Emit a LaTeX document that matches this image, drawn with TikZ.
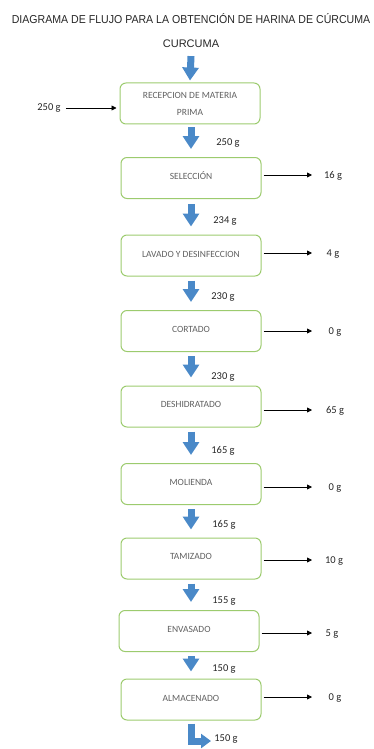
\documentclass[tikz,border=0pt]{standalone}
\usepackage{fontspec}
\setmainfont{Carlito}
\newfontfamily\titlefont{Liberation Sans}
\usetikzlibrary{arrows.meta,calc}
\definecolor{boxgreen}{HTML}{9CCB6E}
\definecolor{arrowblue}{HTML}{4A89C8}
\definecolor{boxtext}{HTML}{606060}
\begin{document}
\begin{tikzpicture}[x=1pt,y=-1pt,
  procbox/.style={draw=boxgreen, line width=1pt, rounded corners=6pt, minimum width=140pt, minimum height=41pt, inner sep=0pt, font=\fontsize{9.5}{15}\selectfont, text=boxtext, align=center},
  masslbl/.style={font=\fontsize{10.5}{12}\selectfont, text=black!85, inner sep=0pt},
  blockarrow/.style={draw=arrowblue, line width=7pt, line cap=butt, line join=miter, -{Triangle[width=16pt,length=13pt]}},
  thinarrow/.style={draw=black, line width=0.8pt, -{Triangle[width=5pt,length=5pt]}}
]
\useasboundingbox (0,0) rectangle (374,749);
% title
\node[font=\titlefont\fontsize{11.5}{13}\selectfont, text=black!85, inner sep=0pt] (title) at (191,19) {\scalebox{0.92}[1]{DIAGRAMA DE FLUJO PARA LA OBTENCIÓN DE HARINA DE CÚRCUMA}};
\node[font=\titlefont\fontsize{11}{13}\selectfont, text=black!85, inner sep=0pt] (cur) at (191,44) {CURCUMA};
% boxes
\node[procbox] (b1) at (190,103.5) {RECEPCION DE MATERIA\\[2pt]PRIMA};
\node[procbox] (b2) at (191,178) {\raisebox{4pt}{SELECCIÓN}};
\node[procbox] (b3) at (191,255.5) {\raisebox{2pt}{LAVADO Y DESINFECCION}};
\node[procbox] (b4) at (191,331) {\raisebox{4pt}{CORTADO}};
\node[procbox] (b5) at (191,406.5) {\raisebox{4pt}{DESHIDRATADO}};
\node[procbox] (b6) at (191,484) {\raisebox{4pt}{MOLIENDA}};
\node[procbox] (b7) at (191,558.5) {\raisebox{4pt}{TAMIZADO}};
\node[procbox] (b8) at (189,631) {\raisebox{4pt}{ENVASADO}};
\node[procbox] (b9) at (191,699.5) {\raisebox{2pt}{ALMACENADO}};
% block arrows
\draw[blockarrow] ($(cur.south)+(0,8)$) -- ($(b1.north)+(0,-2)$);
\draw[blockarrow] ($(b1.south)+(1,3)$) -- ($(b2.north)+(0,-8)$);
\draw[blockarrow] ($(b2.south)+(0,5)$) -- ($(b3.north)+(0,-8)$);
\draw[blockarrow] ($(b3.south)+(0,4)$) -- ($(b4.north)+(0,-8)$);
\draw[blockarrow] ($(b4.south)+(0,4)$) -- ($(b5.north)+(0,-8)$);
\draw[blockarrow] ($(b5.south)+(0,4)$) -- ($(b6.north)+(0,-8)$);
\draw[blockarrow] ($(b6.south)+(0,4)$) -- ($(b7.north)+(0,-8)$);
\draw[blockarrow] ($(b7.south)+(0,4)$) -- ($(b8.north)+(2,-8)$);
\draw[blockarrow] ($(b8.south)+(2,4)$) -- ($(b9.north)+(0,-7)$);
\coordinate (endp) at (211,741);
\draw[blockarrow, -{Triangle[width=14pt,length=10pt]}] ($(b9.south)+(0,3)$) |- (endp);
% mass labels
\node[masslbl] (m1) at (228,143) {250 g};
\node[masslbl] (m2) at (225,221) {234 g};
\node[masslbl] (m3) at (223,297) {230 g};
\node[masslbl] (m4) at (223,377) {230 g};
\node[masslbl] (m5) at (223,451) {165 g};
\node[masslbl] (m6) at (224,525) {165 g};
\node[masslbl] (m7) at (224,601) {155 g};
\node[masslbl] (m8) at (224,669) {150 g};
\node[masslbl] (m9) at (226,739) {150 g};
% input
\node[masslbl] (in) at (49,108) {250 g};
\draw[thinarrow] ($(in.east)+(5,0)$) -- ($(b1.west |- in.east)+(-3,0)$);
% outputs
\coordinate (rx) at (312,0);
\node[masslbl] (o2) at (333,176) {16 g};
\node[masslbl] (o3) at (333,254) {4 g};
\node[masslbl] (o4) at (335,332) {0 g};
\node[masslbl] (o5) at (335,411) {65 g};
\node[masslbl] (o6) at (335,488) {0 g};
\node[masslbl] (o7) at (334,561) {10 g};
\node[masslbl] (o8) at (332,634) {5 g};
\node[masslbl] (o9) at (335,698) {0 g};
\foreach \b/\o in {b2/o2,b3/o3,b4/o4,b5/o5,b6/o6,b7/o7,b8/o8,b9/o9}{
  \draw[thinarrow] ($(\b.east |- \o.center)+(2,-1)$) -- ($(\o.center -| rx)+(0,-1)$);
}
\end{tikzpicture}
\end{document}
